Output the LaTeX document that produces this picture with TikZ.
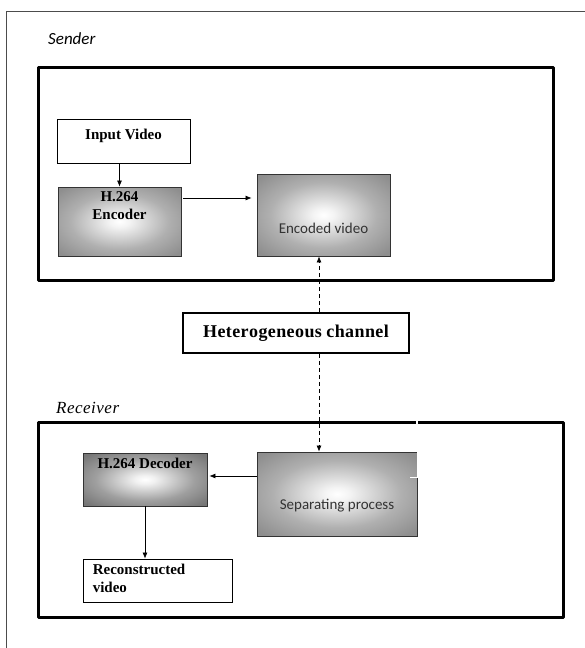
\documentclass[tikz,border=0pt]{standalone}
\usepackage{fontspec}
\setmainfont{Liberation Serif}
\newfontfamily\calfont{Carlito}
\usetikzlibrary{positioning,arrows.meta}
\definecolor{boxgray}{HTML}{8E8E8E}
\definecolor{darkgray}{HTML}{767676}
\pgfdeclareradialshading{boxshade}{\pgfpoint{0bp}{0bp}}{color(0bp)=(white); color(4bp)=(white!90!boxgray); color(20bp)=(boxgray!70!white); color(33bp)=(boxgray); color(50bp)=(boxgray)}
\pgfdeclareradialshading{darkshade}{\pgfpoint{0bp}{0bp}}{color(0bp)=(white); color(4bp)=(white!90!darkgray); color(20bp)=(darkgray!70!white); color(33bp)=(darkgray); color(50bp)=(darkgray)}
\tikzset{
	plainbox/.style={draw,line width=.8pt,fill=white,inner sep=0pt},
	shadebox/.style={draw=black!80,line width=.8pt,shading=boxshade,inner sep=0pt},
	framebox/.style={line width=3pt,line join=round},
	boldtxt/.style={font=\fontsize{15}{18}\selectfont\bfseries,align=center,inner sep=0pt},
	sanstxt/.style={font=\fontsize{15}{17}\calfont,text=black!80,inner sep=0pt},
	dashline/.style={dash pattern=on 4pt off 3pt,line width=.7pt},
}
\begin{document}
\begin{tikzpicture}[x=1pt,y=-1pt,>={Latex[length=6pt,width=5pt]},line cap=butt]
	\useasboundingbox (0,0) rectangle (584,648);
	% outer sheet and the two frames
	\draw[black!70,line width=.8pt] (6,660)--(6,11)--(600,11);
	\draw[framebox] (38,67) rectangle (553,280);
	\draw[framebox] (38,422) rectangle (563,617);
	\draw[white,line width=1.2pt] (417,418)--(417,426);
	\node (sendlbl) at (48,44)[anchor=base west,inner sep=0pt]{\fontsize{17}{20}\calfont\itshape Sender};
	\node (recvlbl) at (56,413)[anchor=base west,inner sep=0pt]{\fontsize{17}{20}\selectfont\itshape R\kern.5pt e\kern.5pt c\kern.5pt e\kern.5pt i\kern.5pt v\kern.5pt e\kern.5pt r};
	% sender side
	\node[plainbox,minimum width=133pt,minimum height=44pt] (inp) at (123.5,141) {};
	\node[boldtxt] (inptxt) at (inp.center) [yshift=5pt] {Input Video};
	\node[shadebox,minimum width=123pt,minimum height=69pt] (enc) at (119.5,221.5) {};
	\node[boldtxt,anchor=north] (enctxt) at ([yshift=-5pt]enc.north) {H.264\\Encoder};
	\node[shadebox,minimum width=133pt,minimum height=82pt] (encv) at (323.5,215) {};
	\node[sanstxt] (encvtxt) at ([yshift=-13pt]encv.center) {Encoded video};
	% channel
	\node[draw,line width=1.8pt,minimum width=226pt,minimum height=40pt,inner sep=0pt,font=\fontsize{18}{20}\selectfont\bfseries] (chan) at (296,333) {H\kern.4pt e\kern.4pt t\kern.4pt e\kern.4pt r\kern.4pt o\kern.4pt g\kern.4pt e\kern.4pt n\kern.4pt e\kern.4pt o\kern.4pt u\kern.4pt s\ c\kern.4pt h\kern.4pt a\kern.4pt n\kern.4pt n\kern.4pt e\kern.4pt l};
	% receiver side
	\node[shadebox,minimum width=160pt,minimum height=84pt] (sep) at (337,494) {};
	\draw[white,line width=1.2pt] (417.5,452)--(417.5,477.5)--(410,477.5);
	\node[sanstxt] (septxt) at ([yshift=-12pt]sep.center) {Separating process};
	\node[shadebox,shading=darkshade,minimum width=124pt,minimum height=53pt] (dec) at (145,479.5) {};
	\node[boldtxt,anchor=north] (dectxt) at ([yshift=-5pt]dec.north) {H.264 Decoder};
	\node[plainbox,minimum width=149pt,minimum height=43pt] (rec) at (157.5,580.5) {};
	\node[boldtxt,align=left,anchor=north west] (rectxt) at ([xshift=10pt,yshift=-5pt]rec.north west) {Reconstructed\\video};
	% connectors
	\coordinate (chx) at (319,0);
	\draw[->,line width=.7pt] (enc.north |- inp.south)--(enc.north);
	\draw[->,line width=.7pt,shorten >=5pt,shorten <=2pt] (enc.east |- 0,198)--(encv.west |- 0,198);
	\draw[->,dashline] (chx |- chan.north)--(chx |- encv.south);
	\draw[->,dashline] (chx |- chan.south)--(chx |- sep.north);
	\draw[->,line width=.7pt,shorten >=2pt] (sep.west |- 0,476)--(dec.east |- 0,476);
	\draw[->,line width=.7pt] (dec.south -| 145,0)--(rec.north -| 145,0);
\end{tikzpicture}
\end{document}
